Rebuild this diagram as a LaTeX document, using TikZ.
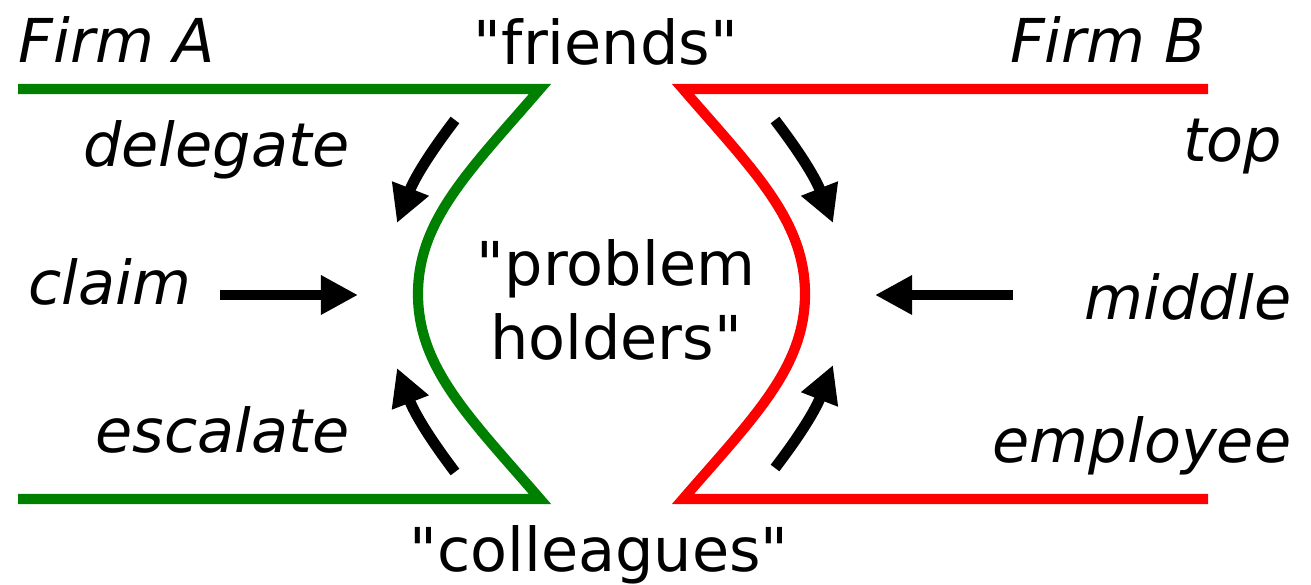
\documentclass[tikz,border=0pt]{standalone}
\usepackage{fontspec}
\setmainfont{DejaVu Sans}[Ligatures=TeXOff]
\usetikzlibrary{arrows.meta}
\tikzset{every node/.style={inner sep=0pt,font=\fontsize{17.2pt}{21.3pt}\selectfont},
  role/.style={font=\fontsize{17.2pt}{21.3pt}\selectfont\itshape},
  firm/.style={line width=2.9pt,line join=miter},
  push/.style={line width=3.1pt,-{Triangle[length=0.37cm,width=0.37cm]}}}

\begin{document}
\begin{tikzpicture}[x=0.01cm,y=-0.01cm]
      \useasboundingbox (0,0) rectangle (1311,585);
      \node[role,anchor=base west] (firmA) at (18,63) {Firm A};
      \node[role,anchor=base east] (firmB) at (1207,63) {Firm B};
      \node[anchor=base] (friends) at (606,65) {"friends"};
      \node[anchor=base] (colleagues) at (599,572) {"colleagues"};
      \node[align=center,anchor=base] (holders) at (616,360) {"problem\\holders"};
      \node[role,anchor=base east] (delegate) at (350,167) {delegate};
      \node[role,anchor=base west] (claim) at (28,305) {claim};
      \node[role,anchor=base east] (escalate) at (350,453) {escalate};
      \node[role,anchor=base east] (top) at (1283,162) {top};
      \node[role,anchor=base east] (middle) at (1292,320) {middle};
      \node[role,anchor=base east] (employee) at (1292,463) {employee};

      \coordinate (dt) at (455,120); \coordinate (dh) at (397,223);
      \coordinate (ct) at (220,295); \coordinate (ch) at (358,295);
      \coordinate (et) at (455,472); \coordinate (eh) at (397,368);
      \coordinate (tt) at (775,120); \coordinate (th) at (833,223);
      \coordinate (mt) at (1013,295); \coordinate (mh) at (875,295);
      \coordinate (bt) at (775,468); \coordinate (bh) at (833,365);

      \draw[firm,green!50!black] (18,89) -- (540,89) .. controls (470,170) and (418,220) .. (418,294)
        .. controls (418,368) and (470,418) .. (540,499) -- (18,499);
      \draw[firm,red] (1208,89) -- (683,89) .. controls (753,170) and (805,220) .. (805,294)
        .. controls (805,368) and (753,418) .. (683,499) -- (1208,499);

      \draw[push] (dt) to[bend right=8] (dh);
      \draw[push] (ct) -- (ch);
      \draw[push] (et) to[bend left=8] (eh);
      \draw[push] (tt) to[bend left=8] (th);
      \draw[push] (mt) -- (mh);
      \draw[push] (bt) to[bend right=8] (bh);
\end{tikzpicture}
\end{document}
